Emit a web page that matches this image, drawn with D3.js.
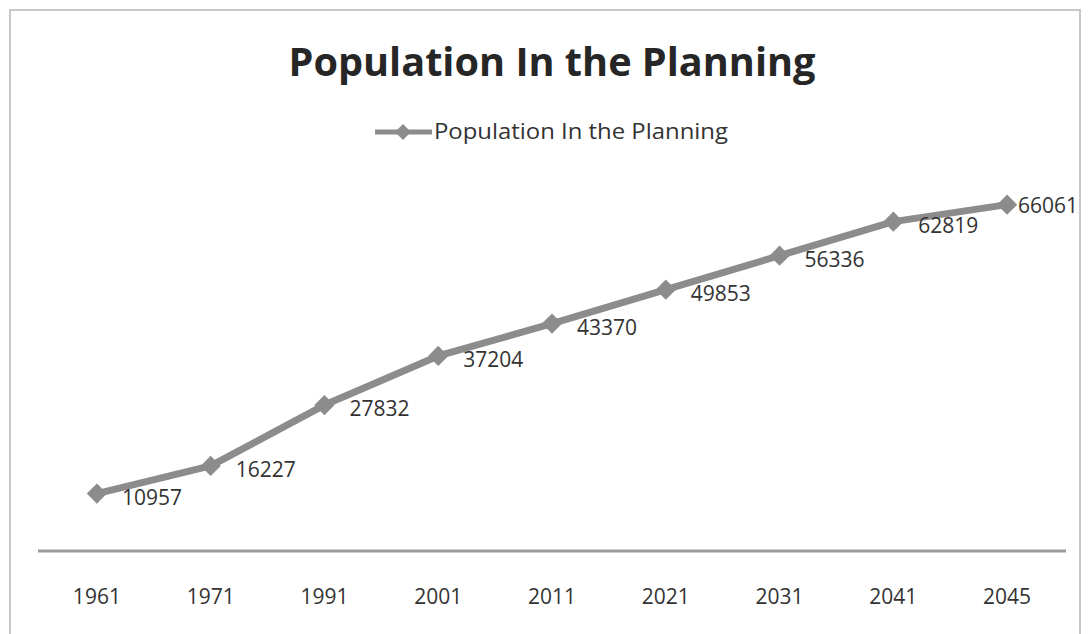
<!DOCTYPE html>
<html><head><meta charset="utf-8">
<script src="https://cdn.jsdelivr.net/npm/d3@7"></script>
<style>body{margin:0;background:#fff;}svg{display:block;}</style>
</head><body>
<svg id="c" width="1090" height="634"></svg>
<script>
const years = ["1961","1971","1991","2001","2011","2021","2031","2041","2045"];
const population = [10957,16227,27832,37204,43370,49853,56336,62819,66061];
const chartTitle = "Population In the Planning";
const seriesName = "Population In the Planning";

const svg = d3.select("#c");
const font = "'Open Sans', 'DejaVu Sans', sans-serif";

svg.append("rect").attr("x",10).attr("y",10).attr("width",1070).attr("height",700)
  .attr("fill","#fff").attr("stroke","#c8c8c8").attr("stroke-width",2);

const x = d3.scaleBand().domain(years).range([40,1064]);
const y = d3.scaleLinear().domain([0,70000]).range([551,184]);

// title
svg.append("text").attr("x",552).attr("y",76).attr("text-anchor","middle")
  .attr("font-family",font).attr("font-weight","bold").attr("font-size",40)
  .attr("fill","#262626").attr("textLength",527).attr("lengthAdjust","spacingAndGlyphs")
  .text(chartTitle);

// legend
const lg = svg.append("g");
lg.append("line").attr("x1",375).attr("x2",432).attr("y1",132).attr("y2",132)
  .attr("stroke","#8c8c8c").attr("stroke-width",5);
lg.append("path").attr("d",d3.symbol(d3.symbolDiamond2,160)()).attr("transform","translate(403,132)")
  .attr("fill","#8c8c8c");
lg.append("text").attr("x",434).attr("y",132).attr("dy","0.35em")
  .attr("font-family",font).attr("font-size",21).attr("fill","#333")
  .attr("textLength",294).attr("lengthAdjust","spacingAndGlyphs")
  .text(seriesName);

// axis
const xAxis = svg.append("g").attr("transform","translate(0,551)")
  .call(d3.axisBottom(x).tickSize(0).tickPadding(38));
xAxis.select(".domain").attr("stroke","#9a9a9a").attr("stroke-width",3)
  .attr("d","M38,0H1066");
xAxis.selectAll("text").attr("font-family",font).attr("font-size",21).attr("fill","#333")
  .attr("dy","0.32em").attr("y",46);

const cx = d => x(d) + x.bandwidth()/2;
const pts = years.map((yr,i)=>({yr, v: population[i], last: i===years.length-1}));

svg.append("path").datum(pts)
  .attr("d", d3.line().x(d=>cx(d.yr)).y(d=>y(d.v)))
  .attr("fill","none").attr("stroke","#8c8c8c").attr("stroke-width",7)
  .attr("stroke-linejoin","round");

svg.selectAll(".m").data(pts).join("path").attr("class","m")
  .attr("d", d3.symbol(d3.symbolDiamond2,260)())
  .attr("transform", d=>`translate(${cx(d.yr)},${y(d.v)})`)
  .attr("fill","#8c8c8c");

svg.selectAll(".lbl").data(pts).join("text").attr("class","lbl")
  .attr("x", d=>cx(d.yr)+(d.last?11:25)).attr("y", d=>y(d.v)+(d.last?1:4)).attr("dy","0.35em")
  .attr("font-family",font).attr("font-size",21).attr("fill","#333")
  .attr("textLength", d=>d.last?60:null).attr("lengthAdjust","spacingAndGlyphs")
  .text(d=>d.v);
</script>
</body></html>
